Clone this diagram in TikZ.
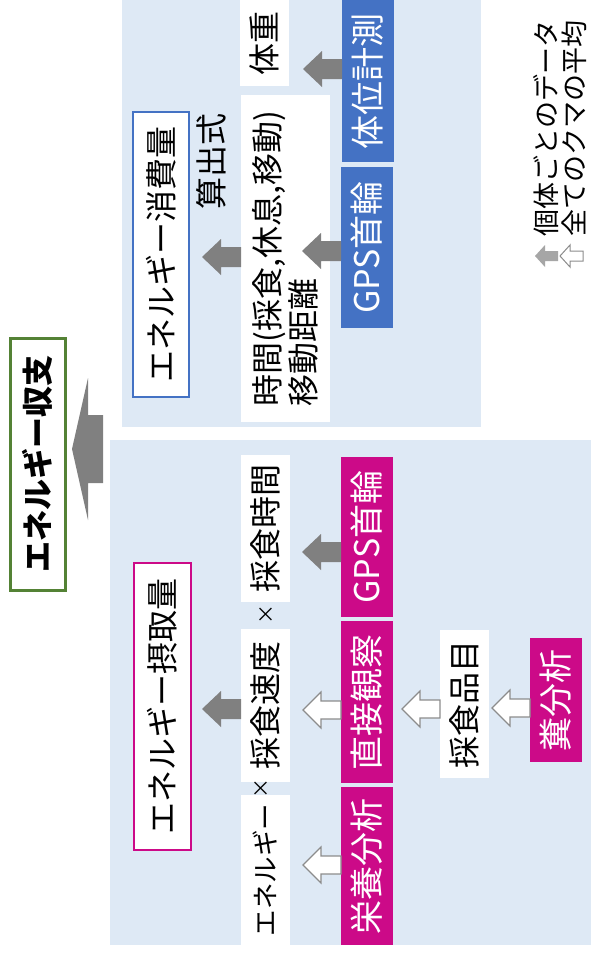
\documentclass[tikz,border=0pt]{standalone}
\usepackage{fontspec}
\setmainfont{Noto Sans CJK JP}
\usetikzlibrary{calc}
\definecolor{panelbg}{HTML}{DEE9F5}
\definecolor{accblue}{HTML}{4472C4}
\definecolor{accmag}{HTML}{CC0A88}
\definecolor{accgreen}{HTML}{548235}
\definecolor{arrgray}{HTML}{808080}
\definecolor{leggray}{HTML}{A6A6A6}
\definecolor{arredge}{HTML}{8C8C8C}
\tikzset{
  blockarrow/.style n args={4}{to path={let \p1=(\tikztostart) in
    ({\x1},{\y1+#4}) -- ({\x1-#1+#2},{\y1+#4}) -- ({\x1-#1+#2},{\y1+#3}) -- ({\x1-#1},{\y1})
    -- ({\x1-#1+#2},{\y1-#3}) -- ({\x1-#1+#2},{\y1-#4}) -- ({\x1},{\y1-#4}) -- cycle}},
  grayarrow/.style={fill=arrgray, draw=none, blockarrow={39pt}{19pt}{18pt}{10pt}},
  whitearrow/.style={fill=white, draw=arredge, line width=1.2pt, line join=miter, blockarrow={38pt}{18pt}{18pt}{9pt}},
  lbl/.style={rotate=90, inner sep=0pt, outer sep=0pt},
  wbox/.style={lbl, fill=white, font=\fontsize{32}{36}\selectfont},
  bbox/.style={lbl, fill=accblue, text=white, font=\fontsize{34}{38}\selectfont},
  mbox/.style={lbl, fill=accmag, text=white, font=\fontsize{34}{38}\selectfont},
  timesign/.style={lbl, font=\fontsize{20}{22}\selectfont},
}
\begin{document}
\begin{tikzpicture}[x=1pt,y=-1pt]
\useasboundingbox (0,0) rectangle (590,953);
\fill[white] (0,0) rectangle (590,953);
% panels
\fill[panelbg] (122,-5) rectangle (481,427);
\fill[panelbg] (110,440) rectangle (595,945);

% top level
\node[lbl, draw=accgreen, line width=3pt, fill=white, minimum width=252pt, minimum height=55pt,
      font=\bfseries\fontsize{31}{34}\selectfont] (balance) at (37.5,464) {エネルギー収支};

% consumption side
\node[lbl, draw=accblue, line width=2pt, fill=white, minimum width=285pt, minimum height=56pt,
      font=\fontsize{32}{36}\selectfont] (consume) at (161,254.5) {エネルギー消費量};
\node[lbl, font=\fontsize{32}{36}\selectfont] (formula) at (211,161) {算出式};
\node[wbox, minimum width=327pt, minimum height=89pt, align=left] (time) at (285.5,258.5)
      {時間(採食,休息,移動)\\移動距離};
\node[wbox, minimum width=86pt, minimum height=49pt] (weight) at (264.5,43) {体重};
\node[bbox, minimum width=162pt, minimum height=52pt] (posture) at (368,81) {体位計測};
\node[bbox, minimum width=161pt, minimum height=52pt] (gpsA) at (367,247.5) {GPS首輪};

% intake side
\node[lbl, draw=accmag, line width=2pt, fill=white, minimum width=287pt, minimum height=57pt,
      font=\fontsize{32}{36}\selectfont] (intake) at (162.5,706.5) {エネルギー摂取量};
\node[wbox, minimum width=147pt, minimum height=49pt] (ftime) at (265.5,528.5) {採食時間};
\node[wbox, minimum width=153pt, minimum height=49pt] (fspeed) at (265.5,705.5) {採食速度};
\node[wbox, minimum width=150pt, minimum height=49pt, font=\fontsize{26.5}{30}\selectfont] (energy) at (265.5,870) {エネルギー};
\node[timesign] (x1) at (267,614) {×};
\node[timesign] (x2) at (262,788) {×};
\node[mbox, minimum width=160pt, minimum height=52pt] (gpsB) at (367,537) {GPS首輪};
\node[mbox, minimum width=162pt, minimum height=52pt] (direct) at (367,702) {直接観察};
\node[mbox, minimum width=158pt, minimum height=52pt] (nutri) at (367,866) {栄養分析};
\node[wbox, minimum width=148pt, minimum height=49pt] (items) at (464.5,704) {採食品目};
\node[mbox, minimum width=124pt, minimum height=52pt] (feces) at (556,700) {糞分析};

% arrows
\coordinate (bigstart) at (103,449);
\draw[fill=arrgray, draw=none, blockarrow={31pt}{16pt}{71pt}{34pt}] (bigstart) to (balance.south);
\draw[grayarrow] (posture.north |- 0,69) to (weight.south);
\draw[grayarrow] (gpsA.north |- 0,251) to (time.south);
\draw[grayarrow] (time.north |- 0,257) to (consume.south);
\draw[grayarrow] (gpsB.north |- 0,552) to (ftime.south);
\draw[grayarrow] (fspeed.north |- 0,709) to (intake.south);
\draw[whitearrow] (direct.north |- 0,710) to (fspeed.south);
\draw[whitearrow] (nutri.north |- 0,865) to (energy.south);
\draw[whitearrow] (items.north |- 0,709) to (direct.south);
\draw[whitearrow] (feces.north |- 0,708) to (items.south);

% legend
\coordinate (legA) at (558,256);
\coordinate (legB) at (583,256);
\draw[fill=leggray, draw=none, blockarrow={23pt}{10pt}{11pt}{5pt}] (legA) to ++(-23,0);
\draw[fill=white, draw=arredge, line width=1pt, blockarrow={23pt}{10pt}{11pt}{5pt}] (legB) to ++(-23,0);
\node[lbl, anchor=west, font=\fontsize{27}{30}\selectfont] (leg1) at (546.5,236) {個体ごとのデータ};
\node[lbl, anchor=west, font=\fontsize{27}{30}\selectfont] (leg2) at (574.5,236) {全てのクマの平均};
\end{tikzpicture}
\end{document}
